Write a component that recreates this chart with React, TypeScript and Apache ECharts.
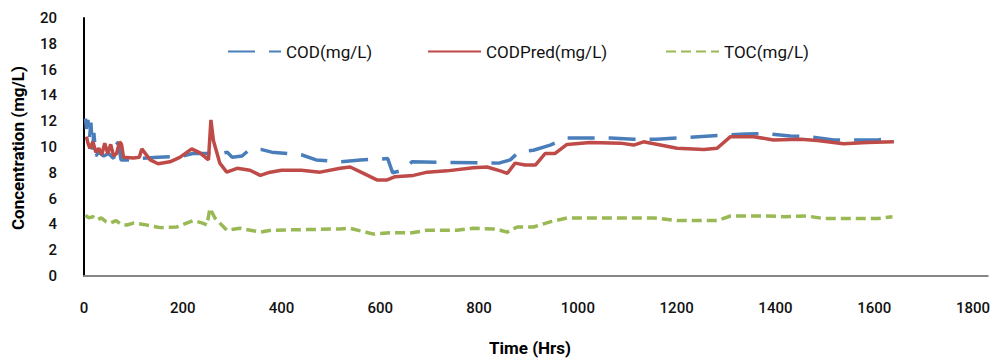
import React, { useEffect, useRef } from "react";
import * as echarts from "echarts";

// ---- data (hours, mg/L) ----
const codHours = [3, 5, 8, 11, 14, 17, 20, 24, 30, 40, 50, 60, 65, 70, 75, 90, 110, 150, 200, 220, 280, 290, 300, 320, 335, 360, 380, 440, 470, 520, 560, 615, 625, 645, 664, 840, 863, 880, 910, 944, 978, 1066, 1113, 1160, 1200, 1290, 1340, 1380, 1430, 1470, 1518, 1607, 1640];
const codValues = [12.2, 11.4, 12.1, 10.6, 11.9, 9.8, 11.1, 9.3, 9.6, 9.3, 9.5, 9.1, 10.4, 10.2, 9.0, 9.0, 9.1, 9.2, 9.3, 9.5, 9.5, 9.6, 9.2, 9.3, 9.8, 9.8, 9.6, 9.4, 9.0, 8.85, 9.0, 9.1, 8.0, 8.2, 8.85, 8.75, 9.0, 9.6, 9.75, 10.15, 10.7, 10.7, 10.6, 10.6, 10.7, 10.9, 11.0, 11.05, 10.85, 10.8, 10.55, 10.55, 10.7];

const predHours = [5, 8, 12, 18, 24, 30, 36, 42, 48, 54, 60, 66, 72, 76, 80, 100, 112, 117, 134, 150, 174, 194, 218, 235, 252, 257, 262, 275, 289, 310, 336, 357, 377, 400, 440, 478, 519, 539, 566, 593, 614, 630, 667, 695, 735, 788, 816, 843, 857, 873, 893, 914, 934, 954, 978, 1025, 1086, 1113, 1133, 1201, 1255, 1282, 1309, 1356, 1396, 1451, 1485, 1538, 1586, 1640];
const predValues = [10.8, 10.3, 9.9, 10.4, 9.6, 9.9, 9.4, 10.3, 9.5, 10.2, 9.3, 9.5, 10.4, 10.2, 9.2, 9.15, 9.2, 9.85, 9.0, 8.7, 8.85, 9.2, 9.85, 9.55, 9.0, 12.1, 10.5, 8.75, 8.05, 8.35, 8.2, 7.8, 8.05, 8.2, 8.2, 8.05, 8.35, 8.45, 7.95, 7.45, 7.45, 7.7, 7.8, 8.05, 8.15, 8.4, 8.45, 8.15, 7.95, 8.75, 8.6, 8.6, 9.5, 9.5, 10.2, 10.35, 10.3, 10.15, 10.4, 9.9, 9.8, 9.9, 10.8, 10.8, 10.55, 10.6, 10.5, 10.25, 10.35, 10.4];

const tocHours = [3, 10, 18, 26, 35, 45, 53, 65, 75, 87, 100, 120, 154, 188, 221, 240, 249, 255, 265, 289, 316, 357, 380, 450, 519, 539, 586, 620, 664, 695, 755, 788, 829, 843, 857, 877, 910, 944, 978, 1154, 1201, 1282, 1309, 1383, 1417, 1464, 1498, 1607, 1637];
const tocValues = [4.7, 4.5, 4.6, 4.35, 4.5, 4.2, 4.1, 4.3, 4.0, 3.95, 4.1, 4.0, 3.75, 3.8, 4.3, 4.1, 3.95, 5.25, 4.5, 3.55, 3.7, 3.4, 3.55, 3.6, 3.65, 3.7, 3.25, 3.35, 3.35, 3.55, 3.55, 3.7, 3.65, 3.55, 3.4, 3.8, 3.8, 4.2, 4.5, 4.5, 4.3, 4.3, 4.65, 4.65, 4.6, 4.65, 4.45, 4.45, 4.6];

const seriesNames = ["COD(mg/L)", "CODPred(mg/L)", "TOC(mg/L)"];
const xTitle = "Time (Hrs)";
const yTitle = "Concentration (mg/L)";

const pairs = (xs: number[], ys: number[]) => xs.map((x, i) => [x, ys[i]]);

const FONT = "Roboto, 'Open Sans', sans-serif";

export default function App() {
  const ref = useRef<HTMLDivElement>(null);
  useEffect(() => {
    if (!ref.current) return;
    const chart = echarts.init(ref.current, null, { renderer: "svg" });
    const legendText = { fontFamily: FONT, fontSize: 17, color: "#111111" };
    const legendBase = {
      top: 43,
      itemWidth: 53,
      itemHeight: 14,
      textStyle: legendText,
      padding: 0,
      itemStyle: { opacity: 0, borderWidth: 0 },
    };
    chart.setOption({
      animation: false,
      backgroundColor: "#ffffff",
      grid: { left: 84, right: 5, top: 18, bottom: 82, containLabel: false },
      legend: [
        { ...legendBase, left: 227, data: [seriesNames[0]] },
        { ...legendBase, left: 427, data: [seriesNames[1]] },
        { ...legendBase, left: 665, data: [seriesNames[2]] },
      ],
      xAxis: {
        type: "value",
        min: 0,
        max: 1830,
        interval: 200,
        axisLine: { show: true, lineStyle: { color: "#868686", width: 2 } },
        axisTick: { show: false },
        splitLine: { show: false },
        axisLabel: {
          margin: 24,
          fontFamily: FONT,
          fontSize: 15,
          fontWeight: 500,
          color: "#111111",
          formatter: (v: number) => (v % 200 === 0 ? String(v) : ""),
        },
      },
      yAxis: {
        type: "value",
        min: 0,
        max: 20,
        interval: 2,
        axisLine: { show: true, onZero: false, lineStyle: { color: "#000000", width: 2 } },
        axisTick: { show: false },
        splitLine: { show: false },
        axisLabel: { margin: 27, fontFamily: FONT, fontSize: 15, fontWeight: 500, color: "#111111" },
      },
      graphic: [
        {
          type: "text",
          x: 18,
          y: 148,
          rotation: Math.PI / 2,
          style: {
            text: yTitle,
            fontFamily: FONT,
            fontSize: 17,
            fontWeight: "bold",
            fill: "#000000",
            textAlign: "center",
            textVerticalAlign: "middle",
          },
        },
        {
          type: "text",
          x: 530,
          y: 348,
          style: {
            text: xTitle,
            fontFamily: FONT,
            fontSize: 17,
            fontWeight: "bold",
            fill: "#000000",
            textAlign: "center",
            textVerticalAlign: "middle",
          },
        },
      ],
      series: [
        {
          name: seriesNames[0],
          type: "line",
          data: pairs(codHours, codValues),
          symbol: "none",
          z: 2,
          lineStyle: { color: "#4A7EBB", width: 3.5, type: [27, 14] },
          itemStyle: { color: "#4A7EBB" },
        },
        {
          name: seriesNames[1],
          type: "line",
          data: pairs(predHours, predValues),
          symbol: "none",
          z: 3,
          lineStyle: { color: "#BE4B48", width: 3.5, type: "solid" },
          itemStyle: { color: "#BE4B48" },
        },
        {
          name: seriesNames[2],
          type: "line",
          data: pairs(tocHours, tocValues),
          symbol: "none",
          z: 2,
          lineStyle: { color: "#98B954", width: 3.5, type: [10, 5] },
          itemStyle: { color: "#98B954" },
        },
      ],
    });
    return () => chart.dispose();
  }, []);
  return (
    <div style={{ position: "fixed", left: 0, top: 0 }}>
      <div ref={ref} style={{ width: 993, height: 358 }} />
    </div>
  );
}
